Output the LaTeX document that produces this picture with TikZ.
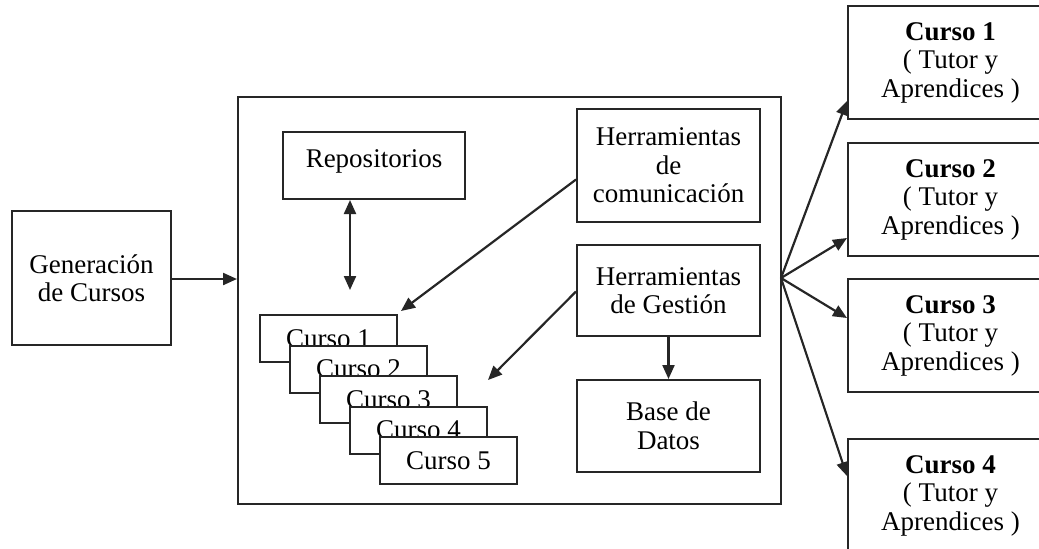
\documentclass[tikz,border=0pt]{standalone}
\usepackage{fontspec}
\setmainfont{Liberation Serif}
\usetikzlibrary{arrows.meta}

\begin{document}
\begin{tikzpicture}[x=0.5pt,y=-0.5pt,
    caja/.style={draw=black!85, line width=1pt, fill=white, inner sep=0pt, align=center,
      font=\fontsize{13.5}{14.25}\selectfont},
    flecha/.style={draw=black!85, line width=1.1pt, -{Triangle[length=7pt,width=6pt]}},
    dflecha/.style={draw=black!85, line width=1.1pt, {Triangle[length=7pt,width=6pt]}-{Triangle[length=7pt,width=6pt]}}]
  \useasboundingbox (0,0) rectangle (1039,548);
  \node [caja, minimum width=79.5pt, minimum height=67pt] (gen) at (91.5,278) {Generaci\'on\\de Cursos};
  \node [caja, minimum width=271.5pt, minimum height=203.5pt] (main) at (509.5,300.5) {};
  \node [caja, minimum width=91pt, minimum height=33.5pt] (repo) at (374,165.5) {\raisebox{7pt}{Repositorios}};
  \node [caja, minimum width=91.5pt, minimum height=56.5pt] (hcom) at (668.5,165.5) {Herramientas\\de\\comunicaci\'on};
  \node [caja, minimum width=91.5pt, minimum height=45.5pt] (hges) at (668.5,290.5) {Herramientas\\de Gesti\'on};
  \node [caja, minimum width=91.5pt, minimum height=46pt] (bd) at (668.5,426) {Base de\\Datos};
  \node [caja, minimum width=68.5pt, minimum height=23.5pt] (c1) at (328.5,338.5) {Curso 1};
  \node [caja, minimum width=68.5pt, minimum height=23.5pt] (c2) at (358.5,369) {Curso 2};
  \node [caja, minimum width=68.5pt, minimum height=23.5pt] (c3) at (388.5,399.5) {Curso 3};
  \node [caja, minimum width=68.5pt, minimum height=23.5pt] (c4) at (418.5,430) {Curso 4};
  \node [caja, minimum width=68.5pt, minimum height=23.5pt] (c5) at (448.5,460.5) {Curso 5};
  \node [caja, minimum width=102.5pt, minimum height=56.5pt] (r1) at (950.5,62.5) {\textbf{Curso 1}\\( Tutor y\\Aprendices )};
  \node [caja, minimum width=102.5pt, minimum height=56.5pt] (r2) at (950.5,199.5) {\textbf{Curso 2}\\( Tutor y\\Aprendices )};
  \node [caja, minimum width=102.5pt, minimum height=56.5pt] (r3) at (950.5,335.5) {\textbf{Curso 3}\\( Tutor y\\Aprendices )};
  \node [caja, minimum width=102.5pt, minimum height=56.5pt] (r4) at (950.5,495.5) {\textbf{Curso 4}\\( Tutor y\\Aprendices )};
  \coordinate (rs) at (350,290);
  \coordinate (gesfin) at (488,380);
  \coordinate (abanico) at (781,278);
  \draw [flecha] ([yshift=-0.5pt]gen.east) -- ([yshift=-0.5pt]gen.east -| main.west);
  \draw [dflecha] (rs |- repo.south) -- (rs);
  \draw [flecha] ([yshift=-7pt]hcom.west) -- ([xshift=1.5pt,yshift=1.5pt]c1.north east);
  \draw [flecha] ([yshift=-0.5pt]hges.west) -- (gesfin);
  \draw [flecha] (hges.south) -- (bd.north);
  \draw [flecha] (abanico) -- ([yshift=9.5pt]r1.south west);
  \draw [flecha] (abanico) -- ([yshift=9.5pt]r2.south west);
  \draw [flecha] (abanico) -- ([yshift=-20pt]r3.north west);
  \draw [flecha] (abanico) -- ([yshift=-19pt]r4.north west);
\end{tikzpicture}
\end{document}
